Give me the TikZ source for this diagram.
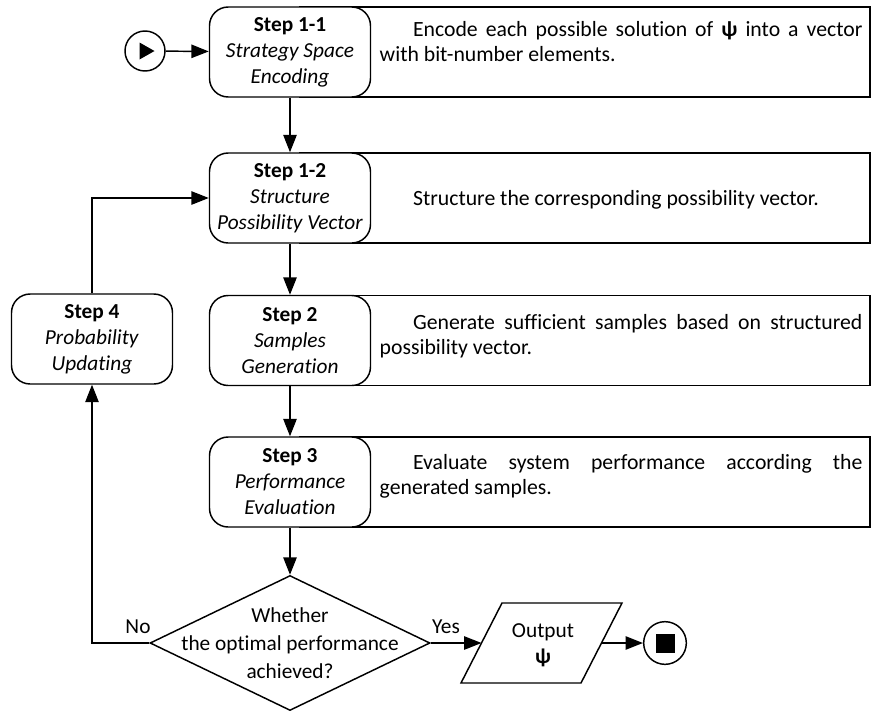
\documentclass[tikz,border=0pt]{standalone}
\usepackage{fontspec}
\setmainfont{Carlito}[Ligatures={NoCommon,NoContextual}]
\usetikzlibrary{shapes.geometric,arrows.meta}
\begin{document}
\begin{tikzpicture}[x=0.75pt,y=-0.75pt,
  line width=1.1pt,
  >={Triangle[length=13pt,width=10pt]},
  stepbox/.style={draw,fill=white,rounded corners=14pt,minimum width=120.75pt,
    minimum height=67.5pt,inner sep=2pt,align=center,
    font=\fontsize{16pt}{19.5pt}\selectfont},
  descbox/.style={draw,fill=white,minimum width=427.5pt,minimum height=67.5pt,inner sep=0pt},
  desctext/.style={anchor=west,inner sep=0pt,text width=362pt,align=justify,
    font=\fontsize{16.3pt}{18.5pt}\selectfont},
  lbl/.style={inner sep=0pt,font=\fontsize{16pt}{18pt}\selectfont},
  term/.style={circle,draw,fill=white,inner sep=0pt}
]
\useasboundingbox (0,0) rectangle (872,711);

% description panels to the right of the steps
\node[descbox] (d11) at (585,52) {};
\node[descbox] (d12) at (585,198) {};
\node[descbox] (d2)  at (585,340.5) {};
\node[descbox] (d3)  at (585,482) {};

\node[desctext] (e11) at (379,41.5) {\hspace*{25pt}Encode each possible solution of \textbf{ψ} into a vector\linebreak with bit-number elements.};
\node[desctext] (e12) at (379,200) {\hspace*{25pt}Structure the corresponding possibility vector.};
\node[desctext] (e2)  at (379,336) {\hspace*{25pt}Generate sufficient samples based on structured\linebreak possibility vector.};
\node[desctext] (e3)  at (379,476) {\hspace*{25pt}Evaluate system performance according the\linebreak generated samples.};

% process steps
\node[stepbox] (s11) at (290,52)    {\textbf{Step 1-1}\\\textit{Strategy Space}\\\textit{Encoding}};
\node[stepbox] (s12) at (290,198)   {\textbf{Step 1-2}\\\textit{Structure}\\\textit{Possibility Vector}};
\node[stepbox] (s2)  at (290,340.5) {\textbf{Step 2}\\\textit{Samples}\\\textit{Generation}};
\node[stepbox] (s3)  at (290,482)   {\textbf{Step 3}\\\textit{Performance}\\\textit{Evaluation}};
\node[stepbox] (s4)  at (92,339)    {\textbf{Step 4}\\\textit{Probability}\\\textit{Updating}};

% decision
\node[diamond,draw,fill=white,minimum width=210pt,minimum height=101.25pt,inner sep=0pt] (dec) at (290,643) {};
\node[lbl,align=center,font=\fontsize{16pt}{21pt}\selectfont] (dectxt) at (290,643.5) {Whether\\the optimal performance\\achieved?};

% output
\coordinate (outL) at (481.5,643);
\coordinate (outR) at (601.5,643);
\draw[fill=white] (461,683) -- (502,603) -- (622,603) -- (581,683) -- cycle;
\node[lbl,align=center,font=\fontsize{16pt}{19.5pt}\selectfont] (outtxt) at (543,645) {Output\\\textbf{ψ}};

% start and end
\node[term,minimum size=30pt] (start) at (145,51) {};
\fill (139.5,42.5) -- (154.5,51) -- (139.5,59.5) -- cycle;
\node[term,minimum size=32pt] (stop) at (665,643) {};
\fill (655.5,633.5) rectangle (674.5,652.5);

% connectors
\draw[->] (start) -- (s11);
\draw[->] (s11) -- (s12);
\draw[->] (s12) -- (s2);
\draw[->] (s2) -- (s3);
\draw[->] (s3) -- (dec);
\draw[->] (dec.west) -| (s4.south);
\draw[->] (s4.north) |- (s12.west);
\draw[->] (dec.east) -- (outL);
\draw[->] (outR) -- (stop);

\node[lbl] (no) at (138,627) {No};
\node[lbl] (yes) at (446,627) {Yes};
\end{tikzpicture}
\end{document}
